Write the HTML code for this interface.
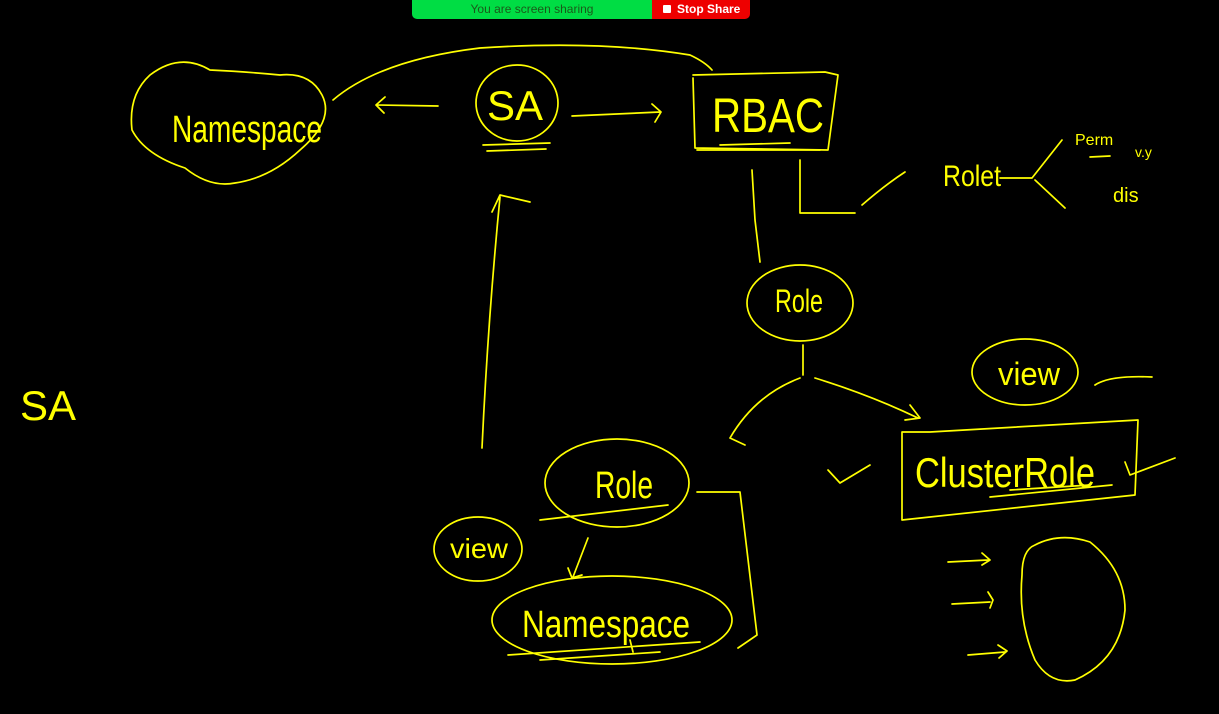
<!DOCTYPE html>
<html><head><meta charset="utf-8"><style>
html,body{margin:0;padding:0;background:#000;width:1219px;height:714px;overflow:hidden}
svg{position:absolute;left:0;top:0}
text{font-family:"Liberation Sans",sans-serif;fill:#ffff00;font-weight:normal}
.bn{position:absolute;top:0;height:19px;font-family:"Liberation Sans",sans-serif;font-size:12px;line-height:18px}
</style></head><body>
<div class="bn" style="left:412px;width:240px;background:#00dd44;border-radius:0 0 0 5px;color:#1a5a1a;text-align:center">You are screen sharing</div>
<div class="bn" style="left:652px;width:98px;background:#ee0000;border-radius:0 0 5px 0;color:#fff;font-weight:bold;text-indent:25px">Stop Share</div>
<div style="position:absolute;left:663px;top:5px;width:8px;height:8px;background:#fff;border-radius:1px"></div>
<svg width="1219" height="714" viewBox="0 0 1219 714" fill="none" stroke="#ffff00" stroke-width="1.7" stroke-linecap="round" stroke-linejoin="round">
<path d="M150,75 Q180,52 210,70 Q250,72 280,75 Q310,72 322,95 Q335,120 300,150 Q270,178 235,183 Q210,188 185,168 Q145,155 132,130 Q128,95 150,75 Z"/>
<path d="M333,100 Q380,60 480,48 Q600,40 690,55 Q705,62 712,70"/>
<ellipse cx="517" cy="103" rx="41" ry="38"/>
<path d="M483,145 L550,143 M487,151 L546,149"/>
<path d="M438,106 L378,105 M385,97 L376,105 L384,113"/>
<path d="M572,116 L660,112 M652,104 L661,112 L655,122"/>
<path d="M693,78 L695,148 L828,150 L838,75 L825,72 L693,75"/>
<path d="M697,150 L820,150 M720,145 L790,143"/>
<path d="M752,170 L755,220 L760,262"/>
<path d="M800,160 L800,213 L855,213"/>
<path d="M862,205 Q885,185 905,172"/>
<path d="M1000,178 L1032,178 M1032,178 L1062,140 M1035,180 L1065,208 M1090,157 L1110,156"/>
<ellipse cx="800" cy="303" rx="53" ry="38"/>
<path d="M803,345 L803,375 M800,378 Q755,395 730,438 M730,438 L745,445 M815,378 Q870,395 918,418 M910,405 L920,418 L905,420"/>
<ellipse cx="1025" cy="372" rx="53" ry="33"/>
<path d="M1095,385 Q1110,375 1152,377"/>
<path d="M902,432 L902,520 L1135,495 L1138,420 L930,432 L902,432"/>
<path d="M990,497 L1112,485 M1010,490 L1090,485"/>
<path d="M828,470 L840,483 L870,465 M1125,462 L1130,475 L1175,458"/>
<path d="M1035,545 Q1060,532 1090,542 Q1125,570 1125,610 Q1120,660 1075,680 Q1050,685 1035,660 Q1018,620 1022,575 Q1022,550 1035,545 Z"/>
<path d="M948,562 L988,560 M982,553 L990,560 L982,565 M952,604 L990,602 M988,592 L993,600 L990,608 M968,655 L1005,652 M998,645 L1007,651 L999,658"/>
<path d="M482,448 Q488,320 500,197 M492,212 L500,195 L530,202"/>
<ellipse cx="617" cy="483" rx="72" ry="44"/>
<path d="M540,520 L668,505"/>
<ellipse cx="478" cy="549" rx="44" ry="32"/>
<path d="M588,538 L573,577 M568,568 L572,578 L582,575"/>
<ellipse cx="612" cy="620" rx="120" ry="44"/>
<path d="M508,655 L700,642 M540,660 L660,652 M630,640 L633,652"/>
<path d="M697,492 L740,492 L757,635 L738,648"/>
</svg>
<svg width="1219" height="714" style="position:absolute;left:0;top:0">
<text x="172" y="142" font-size="38" textLength="150" lengthAdjust="spacingAndGlyphs">Namespace</text>
<text x="487" y="120" font-size="42">SA</text>
<text x="712" y="132" font-size="48" textLength="112" lengthAdjust="spacingAndGlyphs">RBAC</text>
<text x="943" y="186" font-size="30" textLength="58" lengthAdjust="spacingAndGlyphs">Rolet</text>
<text x="1075" y="145" font-size="16">Perm</text>
<text x="1135" y="157" font-size="14">v.y</text>
<text x="1113" y="202" font-size="20">dis</text>
<text x="775" y="312" font-size="32" textLength="48" lengthAdjust="spacingAndGlyphs">Role</text>
<text x="998" y="385" font-size="32" textLength="62" lengthAdjust="spacingAndGlyphs">view</text>
<text x="915" y="487" font-size="42" textLength="180" lengthAdjust="spacingAndGlyphs">ClusterRole</text>
<text x="20" y="420" font-size="42">SA</text>
<text x="595" y="498" font-size="38" textLength="58" lengthAdjust="spacingAndGlyphs">Role</text>
<text x="450" y="558" font-size="28" textLength="58" lengthAdjust="spacingAndGlyphs">view</text>
<text x="522" y="637" font-size="38" textLength="168" lengthAdjust="spacingAndGlyphs">Namespace</text>
</svg>
</body></html>
